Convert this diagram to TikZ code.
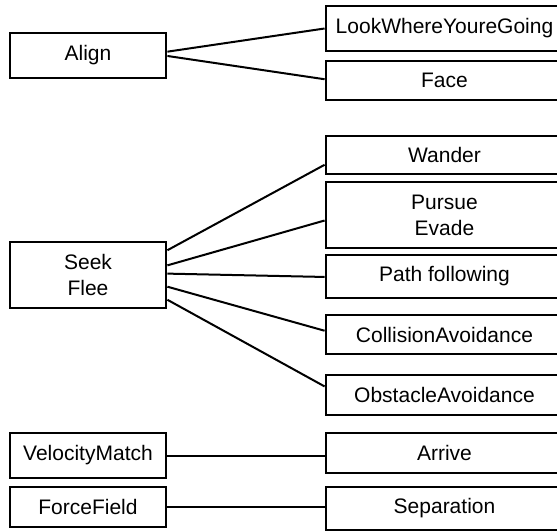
\documentclass[tikz,border=0pt]{standalone}
\usepackage{fontspec}
\setmainfont{Liberation Sans}
\usetikzlibrary{calc}
\begin{document}
\begin{tikzpicture}[x=1bp,y=-1bp,
  box/.style={draw=black,line width=2.8bp,rectangle,inner sep=0pt,align=center,
    font=\fontsize{21bp}{26bp}\selectfont},
  lbox/.style={box,minimum width=156bp},
  rbox/.style={box,minimum width=237bp},
  conn/.style={draw=black,line width=2bp}]
\useasboundingbox (0,0) rectangle (557,531);
\clip (0,0) rectangle (557,531);
\fill[white] (0,0) rectangle (557,531);
% left column
\node[lbox,minimum height=45bp] (align) at (88,55.5) {Align};
\node[lbox,minimum height=66bp] (seek) at (88,275) {Seek\\Flee};
\node[lbox,minimum height=45bp] (vm) at (88,455.5) {VelocityMatch};
\node[lbox,minimum height=40bp] (ff) at (88,507) {ForceField};
% right column
\node[rbox,minimum height=45bp] (look) at (444.5,28.5) {LookWhereYoureGoing};
\node[rbox,minimum height=39bp] (face) at (444.5,80.5) {Face};
\node[rbox,minimum height=38bp] (wander) at (444.5,155) {Wander};
\node[rbox,minimum height=66bp] (pursue) at (444.5,215) {Pursue\\Evade};
\node[rbox,minimum height=43bp] (path) at (444.5,276.5) {Path following};
\node[rbox,minimum height=39bp] (coll) at (444.5,334.5) {CollisionAvoidance};
\node[rbox,minimum height=40bp] (obst) at (444.5,395) {ObstacleAvoidance};
\node[rbox,minimum height=40bp] (arrive) at (444.5,453) {Arrive};
\node[rbox,minimum height=43bp] (sep) at (444.5,508.5) {Separation};
% connectors
\draw[conn] ($(align.north east)!0.42!(align.south east)$) -- (look.west);
\draw[conn] ($(align.north east)!0.51!(align.south east)$) -- ($(face.north west)!0.47!(face.south west)$);
\draw[conn] ($(seek.north east)!0.14!(seek.south east)$) -- ($(wander.north west)!0.74!(wander.south west)$);
\draw[conn] ($(seek.north east)!0.36!(seek.south east)$) -- ($(pursue.north west)!0.58!(pursue.south west)$);
\draw[conn] ($(seek.north east)!0.48!(seek.south east)$) -- ($(path.north west)!0.51!(path.south west)$);
\draw[conn] ($(seek.north east)!0.67!(seek.south east)$) -- ($(coll.north west)!0.41!(coll.south west)$);
\draw[conn] ($(seek.north east)!0.86!(seek.south east)$) -- ($(obst.north west)!0.30!(obst.south west)$);
\draw[conn] (vm.east) -- (vm.east -| arrive.west);
\draw[conn] (ff.east) -- (ff.east -| sep.west);
\end{tikzpicture}
\end{document}
